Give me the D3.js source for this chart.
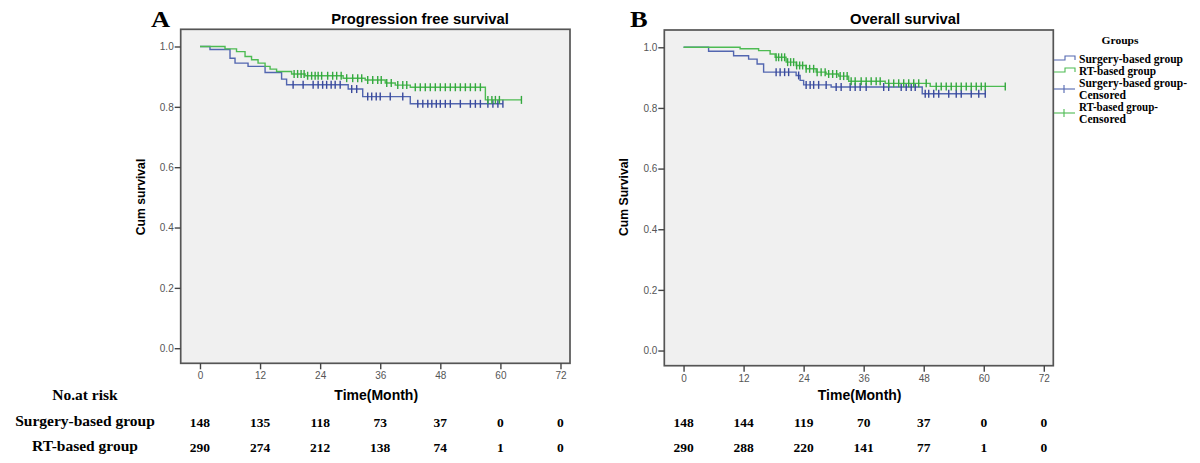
<!DOCTYPE html>
<html><head><meta charset="utf-8">
<script src="https://cdn.jsdelivr.net/npm/d3@7"></script>
<style>body{margin:0;background:#fff}svg{display:block}</style>
</head><body>
<svg id="chart" width="1200" height="463"></svg>
<script>
const timeTicks = [0, 12, 24, 36, 48, 60, 72];
const survTicks = [0, 0.2, 0.4, 0.6, 0.8, 1.0];
const groupNames = ["Surgery-based group", "RT-based group"];

// Progression free survival
const pfsSurgeryTimes = [0, 2, 6, 7, 9.6, 13, 16.3, 17.3, 29.6, 32.5, 42];
const pfsSurgerySurv  = [1.0, 0.99, 0.961, 0.945, 0.934, 0.914, 0.892, 0.873, 0.859, 0.834, 0.81];
const pfsSurgeryEnd = 60.5;
const pfsSurgeryCensor = [18.6, 20.6, 22.6, 23.6, 24.5, 25.3, 26.2, 27, 28, 30.3, 31.3, 33.5, 34.3, 35.2, 36, 38, 40.5, 43.5, 44.5, 45.5, 46.3, 47.2, 48, 49, 50, 52, 54, 55, 56, 57.5, 58.5, 59.5, 60.5];
const pfsRTTimes = [0, 5, 7.3, 9, 10.3, 11.6, 13, 14, 15.3, 18.3, 21, 28.6, 33, 37, 39, 42, 57];
const pfsRTSurv  = [1.0, 0.992, 0.983, 0.967, 0.956, 0.945, 0.934, 0.925, 0.917, 0.909, 0.903, 0.895, 0.889, 0.879, 0.872, 0.865, 0.823];
const pfsRTEnd = 64.2;
const pfsRTCensor = [18.8, 19.5, 20.2, 20.8, 21.5, 22.3, 23, 23.6, 24.3, 25.5, 26.5, 27.3, 28.2, 29.3, 30.5, 31.5, 32.3, 33.5, 34.5, 35.5, 36.2, 37.3, 38.2, 39.5, 40.5, 41.3, 43, 44, 45, 46, 47, 48, 49, 50, 51, 52, 53, 54, 55, 56, 57.5, 58.3, 59, 59.8, 64.2];
const pfsRiskSurgery = [148, 135, 118, 73, 37, 0, 0];
const pfsRiskRT = [290, 274, 212, 138, 74, 1, 0];

// Overall survival
const osSurgeryTimes = [0, 5, 10, 13, 14.7, 16, 22.5, 23.3, 24, 29.5, 47.7];
const osSurgerySurv  = [1.0, 0.987, 0.972, 0.961, 0.945, 0.918, 0.907, 0.891, 0.876, 0.869, 0.847];
const osSurgeryEnd = 60.3;
const osSurgeryCensor = [18.5, 19.3, 20.2, 21, 23, 24.5, 25.3, 26, 27, 28.5, 30.5, 31.5, 33.3, 34.3, 35.3, 36.5, 40, 41, 43.5, 44.5, 45.5, 46.3, 48.3, 49, 50, 51, 53, 54.5, 55.5, 57.5, 59, 60.3];
const osRTTimes = [0, 11.3, 15, 17.3, 18.3, 20.5, 22.5, 24.5, 26.5, 28.5, 31, 33, 40.3, 49.3];
const osRTSurv  = [1.0, 0.995, 0.989, 0.978, 0.967, 0.951, 0.94, 0.929, 0.918, 0.912, 0.905, 0.888, 0.881, 0.871];
const osRTEnd = 64.3;
const osRTCensor = [18.5, 19, 19.6, 20.2, 20.8, 21.4, 22, 22.6, 23.2, 23.8, 24.5, 25.2, 26, 26.7, 27.5, 28.3, 29, 29.8, 30.6, 31.3, 32, 32.7, 33.5, 34.3, 35.5, 36.5, 37.5, 38.5, 39.3, 41, 42, 43, 44, 45, 46, 47, 48.5, 50.5, 51.5, 52.5, 53.5, 54.5, 55.5, 56.5, 57.5, 58.5, 59.5, 60.3, 64.3];
const osRiskSurgery = [148, 144, 119, 70, 37, 0, 0];
const osRiskRT = [290, 288, 220, 141, 77, 1, 0];

const colors = {surgery: "#5266b0", rt: "#4dbb52"};
const censorColors = {surgery: "#3a4a9c", rt: "#34a83f"};
const SANS = "Liberation Sans, Arial, sans-serif";
const SERIF = "Liberation Serif, Times New Roman, serif";
const svg = d3.select("#chart");

const panels = [
  {letter: "A", title: "Progression free survival", ylab: "Cum survival",
   box: {l: 180.7, r: 570, t: 29.3, b: 363.3}, lx: 151, tx: 420,
   series: [
     {times: pfsSurgeryTimes, surv: pfsSurgerySurv, end: pfsSurgeryEnd, cens: pfsSurgeryCensor, color: colors.surgery, cc: censorColors.surgery},
     {times: pfsRTTimes, surv: pfsRTSurv, end: pfsRTEnd, cens: pfsRTCensor, color: colors.rt, cc: censorColors.rt}],
   risk: [pfsRiskSurgery, pfsRiskRT]},
  {letter: "B", title: "Overall survival", ylab: "Cum Survival",
   box: {l: 664.3, r: 1053.3, t: 30, b: 365.7}, lx: 630, tx: 905,
   series: [
     {times: osSurgeryTimes, surv: osSurgerySurv, end: osSurgeryEnd, cens: osSurgeryCensor, color: colors.surgery, cc: censorColors.surgery},
     {times: osRTTimes, surv: osRTSurv, end: osRTEnd, cens: osRTCensor, color: colors.rt, cc: censorColors.rt}],
   risk: [osRiskSurgery, osRiskRT]}
];

panels.forEach(p => {
  const b = p.box;
  const x = d3.scaleLinear().domain([-3.85, 73.9]).range([b.l, b.r]);
  const y = d3.scaleLinear().domain([-0.05, 1.057]).range([b.b, b.t]);
  const g = svg.append("g");

  g.append("rect").attr("x", b.l).attr("y", b.t).attr("width", b.r - b.l).attr("height", b.b - b.t)
    .attr("fill", "#f0f0f0").attr("stroke", "#555").attr("stroke-width", 1.7);

  const ya = g.append("g").attr("transform", `translate(${b.l},0)`)
    .call(d3.axisLeft(y).tickValues(survTicks).tickFormat(d3.format(".1f")).tickSize(6).tickPadding(1));
  const xa = g.append("g").attr("transform", `translate(0,${b.b})`)
    .call(d3.axisBottom(x).tickValues(timeTicks).tickSize(6).tickPadding(3));
  [ya, xa].forEach(a => {
    a.select(".domain").remove();
    a.selectAll("line").attr("stroke", "#444").attr("stroke-width", 1.4);
    a.selectAll("text").attr("fill", "#555").style("font-family", SANS).style("font-size", "10px");
  });

  // curves
  p.series.forEach(s => {
    const pts = s.times.map((t, i) => [t, s.surv[i]]);
    pts.push([s.end, s.surv[s.surv.length - 1]]);
    g.append("path").datum(pts)
      .attr("d", d3.line().x(d => x(d[0])).y(d => y(d[1])).curve(d3.curveStepAfter))
      .attr("fill", "none").attr("stroke", s.color).attr("stroke-width", 1.4);
    const survAt = t => { let v = s.surv[0]; s.times.forEach((tt, i) => { if (tt <= t) v = s.surv[i]; }); return v; };
    g.append("g").selectAll("line").data(s.cens).join("line")
      .attr("x1", d => x(d)).attr("x2", d => x(d))
      .attr("y1", d => y(survAt(d)) - 4).attr("y2", d => y(survAt(d)) + 4)
      .attr("stroke", s.cc).attr("stroke-width", 1.4);
  });

  // titles
  g.append("text").attr("transform", `translate(${p.lx},27) scale(1.15,1)`).text(p.letter)
    .style("font-family", SERIF).style("font-weight", "bold").style("font-size", "23px");
  g.append("text").attr("x", p.tx).attr("y", 24).attr("text-anchor", "middle").text(p.title)
    .style("font-family", SANS).style("font-weight", "bold").style("font-size", "14.8px");
  g.append("text").attr("transform", `translate(${b.l - 36},197) rotate(-90)`).attr("text-anchor", "middle").text(p.ylab)
    .style("font-family", SANS).style("font-weight", "bold").style("font-size", "12.2px");
  g.append("text").attr("x", x(36) - 4).attr("y", 400).attr("text-anchor", "middle").text("Time(Month)")
    .style("font-family", SANS).style("font-weight", "bold").style("font-size", "14px");

  // risk numbers
  p.risk.forEach((row, ri) => {
    g.append("g").selectAll("text").data(row).join("text")
      .attr("x", (d, i) => x(timeTicks[i])).attr("y", 427 + ri * 25).attr("text-anchor", "middle")
      .text(d => d)
      .style("font-family", SERIF).style("font-weight", "bold").style("font-size", "13.5px");
  });
});

// risk table labels
const rl = svg.append("g").style("font-family", SERIF).style("font-weight", "bold").style("font-size", "15.5px");
rl.append("text").attr("x", 85).attr("y", 400).attr("text-anchor", "middle").text("No.at risk");
groupNames.forEach((n, i) => rl.append("text").attr("x", 85).attr("y", 426 + i * 25).attr("text-anchor", "middle").text(n));

// legend
const lg = svg.append("g").style("font-family", SERIF).style("font-weight", "bold");
const legendItems = [
  {kind: "step", color: colors.surgery, lines: ["Surgery-based group"], widths: [104], y: 60},
  {kind: "step", color: colors.rt, lines: ["RT-based group"], widths: [77], y: 72},
  {kind: "cens", color: colors.surgery, lines: ["Surgery-based group-", "Censored"], widths: [108, 47], y: 89},
  {kind: "cens", color: colors.rt, lines: ["RT-based group-", "Censored"], widths: [79, 47], y: 113}
];
lg.append("text").attr("x", 1120).attr("y", 44).attr("text-anchor", "middle").style("font-size", "10.5px")
  .attr("textLength", 37).attr("lengthAdjust", "spacingAndGlyphs").text("Groups");
legendItems.forEach(it => {
  if (it.kind === "step") {
    lg.append("path").attr("d", `M1054,${it.y} H1065 V${it.y - 4} H1075 V${it.y}`)
      .attr("fill", "none").attr("stroke", it.color).attr("stroke-width", 1.1);
  } else {
    lg.append("line").attr("x1", 1054).attr("x2", 1075).attr("y1", it.y).attr("y2", it.y).attr("stroke", it.color).attr("stroke-width", 1.1);
    lg.append("line").attr("x1", 1064).attr("x2", 1064).attr("y1", it.y - 4).attr("y2", it.y + 4).attr("stroke", it.color).attr("stroke-width", 1.1);
  }
  const t0 = it.kind === "step" ? it.y + 3 : it.y - 2;
  it.lines.forEach((ln, i) => lg.append("text").attr("x", 1079).attr("y", t0 + i * 11.7)
    .attr("textLength", it.widths[i]).attr("lengthAdjust", "spacingAndGlyphs")
    .style("font-size", "11.5px").text(ln));
});
</script>
</body></html>
